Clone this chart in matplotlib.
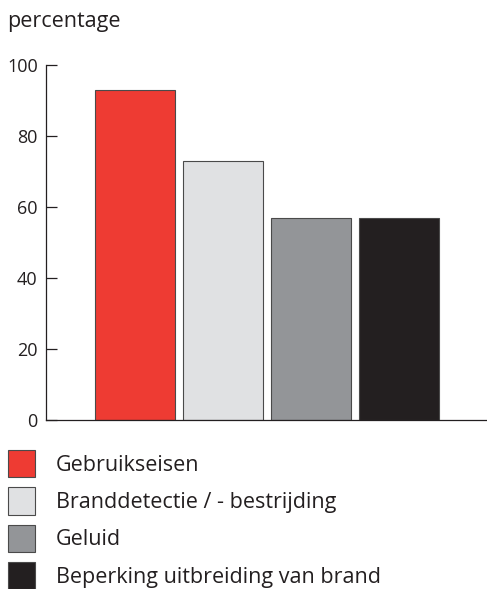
import matplotlib.pyplot as plt
from matplotlib.patches import Patch

plt.rcParams["font.family"] = ["Open Sans", "DejaVu Sans"]

categories = ["Gebruikseisen", "Branddetectie / - bestrijding", "Geluid",
              "Beperking uitbreiding van brand"]
values = [93, 73, 57, 57]
colors = ["#EE3B33", "#E0E1E3", "#939598", "#231F20"]
yticks = [0, 20, 40, 60, 80, 100]

fig = plt.figure(figsize=(4.87, 5.89), dpi=100)
ax = fig.add_axes([46 / 487, 1 - 420 / 589, 1 - 46 / 487, 355 / 589])

x = list(range(len(values)))
ax.bar(x, values, width=0.91, color=colors, edgecolor="#4a4a4a", linewidth=0.8)

ax.set_xlim(-1.01, 4.0)
ax.set_ylim(0, 100)
ax.set_yticks(yticks)
ax.set_xticks([])
ax.tick_params(axis="y", direction="in", length=8, width=0.9, labelsize=13,
               pad=6, colors="#231F20")
for s in ["top", "right"]:
    ax.spines[s].set_visible(False)
for s in ["left", "bottom"]:
    ax.spines[s].set_linewidth(0.9)
    ax.spines[s].set_color("#231F20")

fig.text(7 / 487, 1 - 21 / 589, "percentage", fontsize=15.5, color="#231F20",
         va="center", ha="left")

handles = [Patch(facecolor=c, edgecolor="#4a4a4a", linewidth=0.8) for c in colors]
fig.legend(handles, categories, loc="upper left",
           bbox_to_anchor=(8 / 487, 1 - 450 / 589), frameon=False,
           fontsize=15.5, handlelength=1.26, handleheight=1.56, borderpad=0,
           handletextpad=0.95, labelspacing=0.48, borderaxespad=0,
           labelcolor="#231F20")

fig.savefig("out.png", dpi=100)
